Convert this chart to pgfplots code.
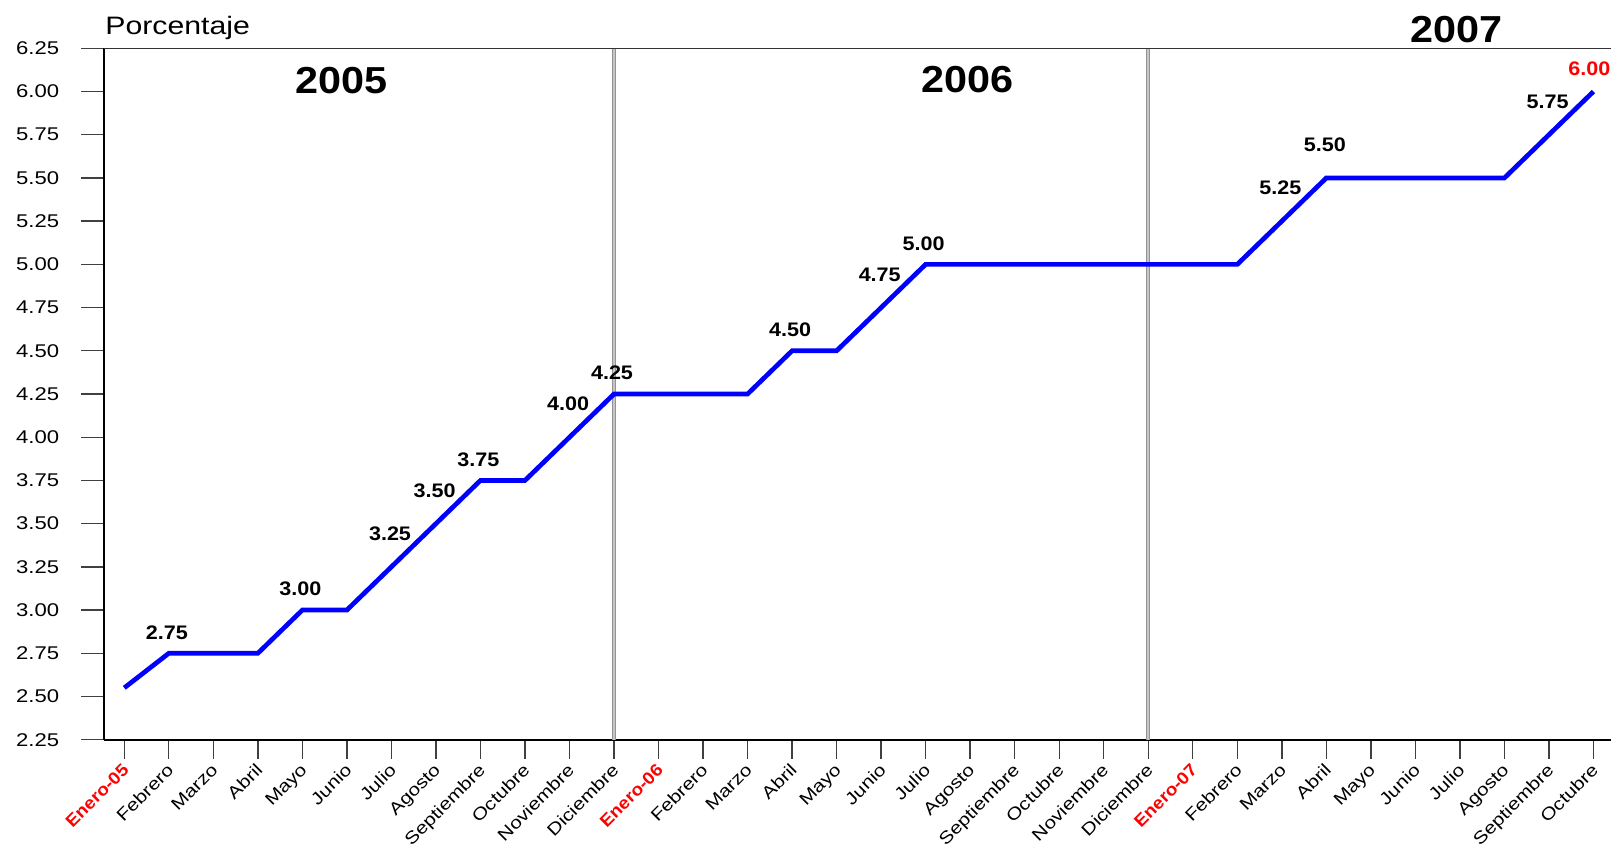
\documentclass[border=0pt]{standalone}
\usepackage{pgfplots}
\pgfplotsset{compat=1.18}
\usepackage{fontspec}
\setmainfont{Liberation Sans}[FakeStretch=1.2, BoldFeatures={FakeStretch=1.1}]

\definecolor{lineblue}{RGB}{0,0,255}
\definecolor{hotred}{RGB}{255,0,0}

\begin{document}
\begin{tikzpicture}
% page frame: the axis box starts at (0,0)
\useasboundingbox (-51.9pt,-54.15pt) rectangle (753.6pt,369.85pt);
\begin{axis}[
  at={(0,0)}, anchor=south west,
  scale only axis,
  width=753.6pt, height=345.7pt,
  xmin=-0.46, xmax=33.394,
  ymin=2.25, ymax=6.25,
  axis lines*=left,
  axis line style={line width=0.8pt, black},
  clip=false,
  tick align=outside,
  ytick={2.25,2.50,2.75,3.00,3.25,3.50,3.75,4.00,4.25,4.50,4.75,5.00,5.25,5.50,5.75,6.00,6.25},
  ytick style={/pgfplots/major tick length=11.5pt, line width=0.7pt, black!75},
  xtick style={/pgfplots/major tick length=9.5pt, line width=0.7pt, black!75},
  /pgf/number format/.cd, fixed, fixed zerofill, precision=2, assume math mode=true,
  /pgfplots/.cd,
  yticklabel shift=14.5pt,
  yticklabel style={font=\fontsize{9.2}{10}\selectfont, anchor=east},
  xtick={0,...,33},
  xticklabels={{\textbf{\color{hotred}Enero-05}},Febrero,Marzo,Abril,Mayo,Junio,Julio,Agosto,Septiembre,Octubre,Noviembre,Diciembre,
    {\textbf{\color{hotred}Enero-06}},Febrero,Marzo,Abril,Mayo,Junio,Julio,Agosto,Septiembre,Octubre,Noviembre,Diciembre,
    {\textbf{\color{hotred}Enero-07}},Febrero,Marzo,Abril,Mayo,Junio,Julio,Agosto,Septiembre,Octubre},
  xticklabel shift=5.5pt,
  xticklabel style={font=\fontsize{8.6}{10}\selectfont, xshift=-1.5pt, rotate=45, anchor=north east, inner sep=1pt},
]
% year separators
\addplot[draw=gray!85, double=gray!45, line width=0.55pt, double distance=0.8pt] coordinates {(11,2.25) (11,6.25)};
\addplot[draw=gray!85, double=gray!45, line width=0.55pt, double distance=0.8pt] coordinates {(23,2.25) (23,6.25)};

% rate path
\addplot[lineblue, line width=2.35pt, mark=none] coordinates {
  (0,2.55) (1,2.75) (2,2.75) (3,2.75) (4,3.00) (5,3.00) (6,3.25) (7,3.50)
  (8,3.75) (9,3.75) (10,4.00) (11,4.25) (12,4.25) (13,4.25) (14,4.25)
  (15,4.50) (16,4.50) (17,4.75) (18,5.00) (19,5.00) (20,5.00) (21,5.00)
  (22,5.00) (23,5.00) (24,5.00) (25,5.00) (26,5.25) (27,5.50) (28,5.50)
  (29,5.50) (30,5.50) (31,5.50) (32,5.75) (33,6.00)};

% value labels on the steps
\addplot[draw=none, mark=none, nodes near coords, point meta=y,
  nodes near coords style={font=\bfseries\fontsize{9.8}{11}\selectfont, anchor=center, yshift=10.5pt, xshift=-1pt}]
  coordinates {(1,2.75) (4,3.00) (8,3.75) (11,4.25) (15,4.50) (18,5.00)};
\addplot[draw=none, mark=none, nodes near coords, point meta=y,
  nodes near coords style={font=\bfseries\fontsize{9.8}{11}\selectfont, anchor=center, yshift=16.6pt, xshift=-0.7pt}]
  coordinates {(6,3.25) (7,3.50) (10,4.00) (17,4.75) (26,5.25) (27,5.50) (32,5.75)};
\addplot[draw=none, mark=none, nodes near coords, point meta=y,
  nodes near coords style={font=\bfseries\fontsize{9.8}{11}\selectfont, text=hotred, anchor=center, yshift=11.3pt, xshift=-2pt}]
  coordinates {(33,6.00)};

% top border
\draw[line width=0.8pt, black!80] (rel axis cs:0,1) -- (rel axis cs:1,1);

% headings
\node[font=\fontsize{12.6}{14}\selectfont, anchor=base west, inner sep=0pt] at (axis cs:-0.434,6.327) {Porcentaje};
\node[font=\bfseries\fontsize{18.8}{20}\selectfont] at (axis cs:4.89,6.066) {2005};
\node[font=\bfseries\fontsize{18.8}{20}\selectfont] at (axis cs:18.95,6.072) {2006};
\node[font=\bfseries\fontsize{18.8}{20}\selectfont] at (axis cs:29.93,6.357) {2007};
\end{axis}
\end{tikzpicture}
\end{document}
